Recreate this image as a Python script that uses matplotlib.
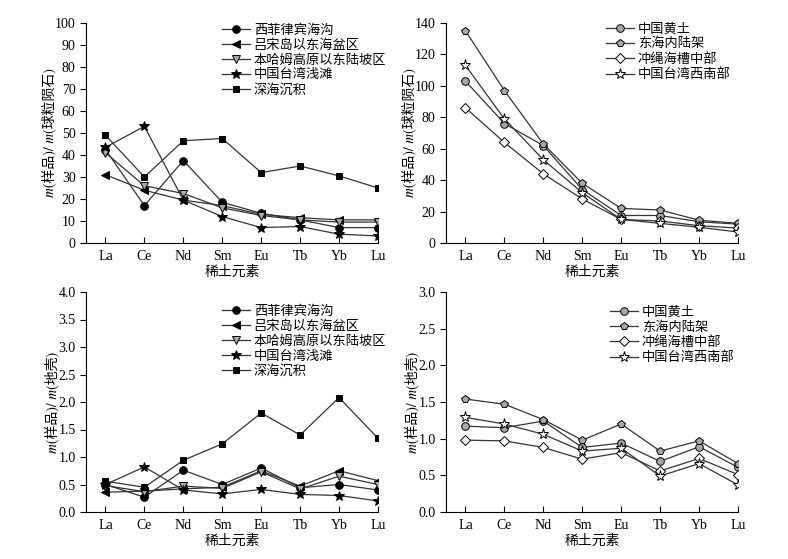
import matplotlib
matplotlib.use("Agg")
import matplotlib.pyplot as plt

# =====================
# 全局设置
# =====================
plt.rcParams['font.family'] = ['Liberation Serif', 'Noto Sans CJK SC', 'DejaVu Sans']
plt.rcParams['axes.unicode_minus'] = False

# =====================
# 数据
# =====================
elements = ['La', 'Ce', 'Nd', 'Sm', 'Eu', 'Tb', 'Yb', 'Lu']

# 左侧: 各海区沉积物
left_names = ['西菲律宾海沟', '吕宋岛以东海盆区', '本哈姆高原以东陆坡区', '中国台湾浅滩', '深海沉积']

# 球粒陨石标准化
ch_xifei = [42.5, 17, 37.5, 18.5, 13.5, 10.5, 7, 7]
ch_lvsong = [31, 24, 19.5, 17, 13, 11.5, 10.5, 10.5]
ch_benham = [41, 26, 22.5, 16, 12.5, 10.5, 9.5, 9.5]
ch_taiwan = [43.5, 53, 19.5, 12, 7, 7.5, 4, 3.2]
ch_deep = [49, 30, 46.5, 47.5, 32, 35, 30.5, 25]

# 地壳标准化
cr_xifei = [0.50, 0.27, 0.76, 0.50, 0.80, 0.44, 0.50, 0.40]
cr_lvsong = [0.36, 0.38, 0.42, 0.45, 0.75, 0.47, 0.75, 0.57]
cr_benham = [0.48, 0.37, 0.47, 0.43, 0.73, 0.42, 0.65, 0.50]
cr_taiwan = [0.50, 0.82, 0.40, 0.33, 0.41, 0.32, 0.30, 0.20]
cr_deep = [0.56, 0.45, 0.94, 1.24, 1.80, 1.40, 2.08, 1.34]

# 右侧: 对比区域
right_names = ['中国黄土', '东海内陆架', '冲绳海槽中部', '中国台湾西南部']

ch_loess = [103, 76, 62, 34, 17.5, 17.5, 13.5, 12]
ch_shelf = [135, 97, 63, 38, 22, 21, 14.5, 12.5]
ch_okinawa = [86, 64, 44, 28, 15, 14, 11, 9.5]
ch_swtaiwan = [113, 79, 53, 32, 15, 12.5, 10, 7]

cr_loess = [1.17, 1.15, 1.24, 0.88, 0.94, 0.69, 0.89, 0.61]
cr_shelf = [1.54, 1.47, 1.26, 0.98, 1.20, 0.83, 0.97, 0.66]
cr_okinawa = [0.98, 0.97, 0.88, 0.72, 0.81, 0.56, 0.73, 0.51]
cr_swtaiwan = [1.29, 1.20, 1.06, 0.83, 0.87, 0.49, 0.66, 0.37]

# =====================
# 样式
# =====================
left_styles = [
    dict(marker='o', mfc='black'),
    dict(marker='<', mfc='black'),
    dict(marker='v', mfc='#a8a8a8'),
    dict(marker='*', mfc='black', ms=7.5),
    dict(marker='s', mfc='black', ms=5),
]
right_styles = [
    dict(marker='o', mfc='#a8a8a8'),
    dict(marker='p', mfc='#a8a8a8', ms=6),
    dict(marker='D', mfc='white', ms=4.8),
    dict(marker='*', mfc='white', ms=8),
]

fig = plt.figure(figsize=(7.88, 5.59), dpi=100)

ax_w = 292 / 788
ax_h = 220 / 559
ax1 = fig.add_axes([86 / 788, 1 - 243 / 559, ax_w, ax_h])
ax2 = fig.add_axes([446 / 788, 1 - 243 / 559, ax_w, ax_h])
ax3 = fig.add_axes([86 / 788, 1 - 512 / 559, ax_w, ax_h])
ax4 = fig.add_axes([446 / 788, 1 - 512 / 559, ax_w, ax_h])

x = list(range(len(elements)))

# 斜体 m 用 STIX 的数学斜体字符
ylab_ch = '\U0001D45A(样品)/ \U0001D45A(球粒陨石)'
ylab_cr = '\U0001D45A(样品)/ \U0001D45A(地壳)'


def draw(ax, series, names, styles, ylim, yticks, ylabel, legend_pos):
    for ys, name, st in zip(series, names, styles):
        kw = dict(color='#333333', lw=0.9, mec='black', mew=0.7, ms=5.5)
        kw.update(st)
        ax.plot(x, ys, label=name, **kw)
    ax.set_xlim(-0.5, 7)
    ax.set_ylim(*ylim)
    ax.set_yticks(yticks)
    ax.set_xticks(x)
    ax.set_xticklabels(elements)
    ax.spines['top'].set_visible(False)
    ax.spines['right'].set_visible(False)
    ax.tick_params(axis='x', direction='in', length=4, labelsize=10, pad=5)
    ax.tick_params(axis='y', direction='out', length=4, labelsize=10)
    ax.set_xlabel('稀土元素', fontsize=10, labelpad=2)
    ax.set_ylabel(ylabel, fontsize=10, labelpad=-1,
                  family=['STIXGeneral', 'Noto Sans CJK SC'])
    ax.legend(
        loc='upper left',
        bbox_to_anchor=legend_pos,
        frameon=False,
        prop={'size': 9.5},
        handlelength=2.1,
        handletextpad=0.3,
        labelspacing=0.2,
        borderpad=0,
        borderaxespad=0,
    )


draw(ax1, [ch_xifei, ch_lvsong, ch_benham, ch_taiwan, ch_deep], left_names, left_styles,
     (0, 100), range(0, 101, 10), ylab_ch, (0.466, 0.995))
draw(ax2, [ch_loess, ch_shelf, ch_okinawa, ch_swtaiwan], right_names, right_styles,
     (0, 140), range(0, 141, 20), ylab_ch, (0.548, 1.0))
draw(ax3, [cr_xifei, cr_lvsong, cr_benham, cr_taiwan, cr_deep], left_names, left_styles,
     (0, 4), [i * 0.5 for i in range(9)], ylab_cr, (0.466, 0.94))
draw(ax4, [cr_loess, cr_shelf, cr_okinawa, cr_swtaiwan], right_names, right_styles,
     (0, 3), [i * 0.5 for i in range(7)], ylab_cr, (0.562, 0.935))

for ax in (ax3, ax4):
    ax.set_yticklabels([f'{v:.1f}' for v in ax.get_yticks()])

fig.savefig('out.png', dpi=100)
